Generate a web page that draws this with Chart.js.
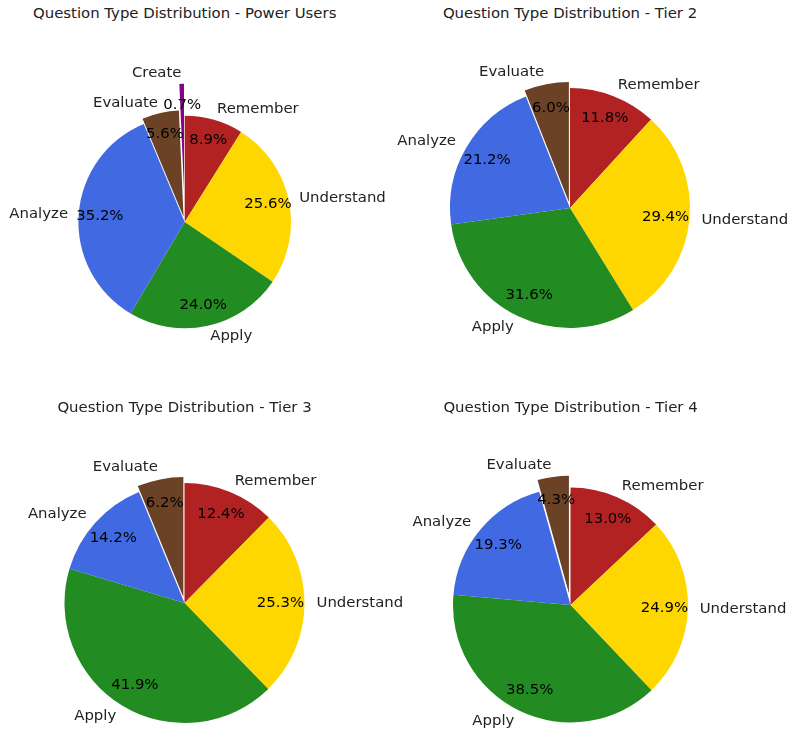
<!DOCTYPE html>
<html>
<head>
<meta charset="utf-8">
<script src="https://cdn.jsdelivr.net/npm/chart.js@4"></script>
<style>
  html, body { margin: 0; padding: 0; background: #fff; }
  #fig { position: relative; width: 787px; height: 729px; overflow: hidden; }
  canvas { position: absolute; }
  .title {
    position: absolute; width: 400px; text-align: center;
    font: 14.9px "DejaVu Sans", sans-serif; color: #222;
    line-height: 20px; white-space: nowrap;
  }
</style>
</head>
<body>
<div id="fig"></div>
<script>
// data
const categories = ['Remember', 'Understand', 'Apply', 'Analyze', 'Evaluate', 'Create'];
const powerUsers = [8.9, 25.6, 24.0, 35.2, 5.6, 0.7];
const tier2 = [11.8, 29.4, 31.6, 21.2, 6.0];
const tier3 = [12.4, 25.3, 41.9, 14.2, 6.2];
const tier4 = [13.0, 24.9, 38.5, 19.3, 4.3];
const titles = [
    'Question Type Distribution - Power Users',
    'Question Type Distribution - Tier 2',
    'Question Type Distribution - Tier 3',
    'Question Type Distribution - Tier 4'
];

// style
const colors = {
    Remember: '#B22222',
    Understand: '#FFD700',
    Apply: '#228B22',
    Analyze: '#4169E1',
    Evaluate: '#6B4226',
    Create: '#8B008B'
};
const FONT = '14.9px "DejaVu Sans", sans-serif';

// where each pie goes: canvas box [x, y, w, h], pie centre, radius, explode (fraction of radius)
const panels = [
    { values: powerUsers, box: [0, 25, 420, 375], center: [184.7, 222], r: 106.3, titleY: 13,
      explode: { Evaluate: 0.05, Create: 0.3 } },
    { values: tier2, box: [380, 25, 407, 375], center: [570, 208], r: 120, titleY: 13,
      explode: { Evaluate: 0.05 } },
    { values: tier3, box: [0, 420, 420, 309], center: [184.5, 603], r: 120, titleY: 407,
      explode: { Evaluate: 0.05 } },
    { values: tier4, box: [380, 420, 407, 309], center: [570.5, 605], r: 117.5, titleY: 407,
      explode: { Evaluate: 0.1 } }
];

// pull the exploded wedges out along their middle angle
const explodePlugin = {
    id: 'explode',
    afterDatasetUpdate(chart, args) {
        const ds = chart.data.datasets[args.index];
        const meta = chart.getDatasetMeta(args.index);
        meta.data.forEach((arc, i) => {
            const e = ds.explode[i] || 0;
            if (!e) return;
            const mid = (arc.startAngle + arc.endAngle) / 2;
            arc.x += Math.cos(mid) * e * arc.outerRadius;
            arc.y += Math.sin(mid) * e * arc.outerRadius;
        });
    }
};

// category names outside, percentages inside
const pieLabels = {
    id: 'pieLabels',
    afterDraw(chart) {
        const ctx = chart.ctx;
        const ds = chart.data.datasets[0];
        const total = ds.data.reduce((a, b) => a + b, 0);
        const meta = chart.getDatasetMeta(0);
        ctx.save();
        ctx.font = FONT;
        ctx.textBaseline = 'middle';
        meta.data.forEach((arc, i) => {
            const mid = (arc.startAngle + arc.endAngle) / 2;
            const r = arc.outerRadius;
            const c = Math.cos(mid), s = Math.sin(mid);
            ctx.fillStyle = '#222';
            ctx.textAlign = c > 0 ? 'left' : 'right';
            ctx.fillText(chart.data.labels[i], arc.x + 1.1 * r * c, arc.y + 1.1 * r * s);
            ctx.fillStyle = '#000';
            ctx.textAlign = 'center';
            const pct = (ds.data[i] / total * 100).toFixed(1) + '%';
            ctx.fillText(pct, arc.x + 0.8 * r * c, arc.y + 0.8 * r * s);
        });
        ctx.restore();
    }
};

const fig = document.getElementById('fig');

panels.forEach((p, k) => {
    const [bx, by, bw, bh] = p.box;
    const [cx, cy] = p.center;

    const t = document.createElement('div');
    t.className = 'title';
    t.textContent = titles[k];
    t.style.left = (cx - 200) + 'px';
    t.style.top = (p.titleY - 10) + 'px';
    fig.appendChild(t);

    const cv = document.createElement('canvas');
    cv.width = bw;
    cv.height = bh;
    cv.style.left = bx + 'px';
    cv.style.top = by + 'px';
    fig.appendChild(cv);

    const labels = categories.slice(0, p.values.length);

    new Chart(cv.getContext('2d'), {
        type: 'pie',
        data: {
            labels: labels,
            datasets: [{
                data: p.values,
                backgroundColor: labels.map(l => colors[l]),
                explode: labels.map(l => p.explode[l] || 0),
                borderWidth: 0,
                clip: false
            }]
        },
        options: {
            responsive: false,
            animation: false,
            events: [],
            layout: {
                padding: {
                    left: cx - bx - p.r,
                    top: cy - by - p.r,
                    right: bx + bw - cx - p.r,
                    bottom: by + bh - cy - p.r
                }
            },
            plugins: {
                legend: { display: false },
                tooltip: { enabled: false },
                title: { display: false }
            }
        },
        plugins: [explodePlugin, pieLabels]
    });
});
</script>
</body>
</html>
